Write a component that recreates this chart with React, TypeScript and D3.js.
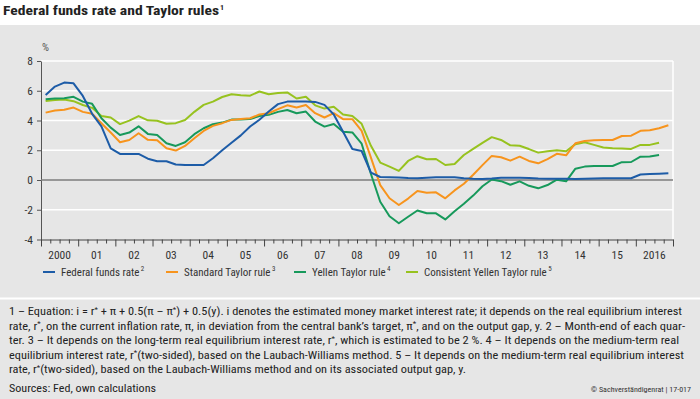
import { useEffect, useRef } from 'react';

import * as d3 from 'd3';

const WIDTH = 700;
const HEIGHT = 399;

const PLOT = ({
  left: 41, right: 673, top: 61, bottom: 239.5,
});

const FONT = '"Liberation Sans Narrow", "Roboto Condensed", "Liberation Sans", Arial, sans-serif';

const yTicks = [-4, -2, 0, 2, 4, 6, 8];
const yearLabels = ['2000', '01', '02', '03', '04', '05', '06', '07', '08', '09', '10', '11', '12', '13', '14', '15', '2016'];

// quarterly values, 2000Q1 onwards
const fedFunds = [
  5.72, 6.28, 6.55, 6.5, 5.65, 4.45, 3.6, 2.13, 1.75, 1.75, 1.75, 1.43,
  1.26, 1.26, 1.04, 1.01, 1.01, 1.01, 1.46, 2.0, 2.5, 3.0, 3.6, 4.05,
  4.6, 5.1, 5.27, 5.27, 5.27, 5.25, 5.05, 4.4, 3.25, 2.08, 1.95, 0.5,
  0.2, 0.18, 0.16, 0.13, 0.12, 0.15, 0.18, 0.18, 0.18, 0.12, 0.08, 0.07,
  0.1, 0.15, 0.15, 0.15, 0.14, 0.1, 0.09, 0.08, 0.08, 0.07, 0.09, 0.1,
  0.12, 0.12, 0.12, 0.12, 0.37, 0.4, 0.42, 0.45,
];
const standardTaylor = [
  4.53, 4.67, 4.72, 4.87, 4.58, 4.45, 3.82, 3.19, 2.54, 2.69, 3.14, 2.7,
  2.67, 2.13, 1.98, 2.29, 2.81, 3.3, 3.64, 3.82, 4.04, 4.1, 4.15, 4.4,
  4.49, 4.76, 5.02, 4.88, 5.04, 4.49, 4.2, 4.49, 4.09, 4.09, 3.3, 1.5,
  -0.34, -1.23, -1.68, -1.25, -0.74, -0.85, -0.83, -1.23, -0.7, -0.25, 0.35, 1.0,
  1.62, 1.53, 1.3, 1.57, 1.28, 1.12, 1.4, 1.76, 1.66, 2.47, 2.63, 2.68,
  2.69, 2.69, 2.96, 2.98, 3.31, 3.34, 3.48, 3.68,
];
const yellenTaylor = [
  5.43, 5.48, 5.5, 5.59, 5.27, 5.12, 4.15, 3.52, 3.03, 3.19, 3.61, 3.1,
  3.03, 2.47, 2.29, 2.54, 3.08, 3.48, 3.75, 3.86, 4.06, 4.07, 4.1, 4.3,
  4.38, 4.58, 4.71, 4.49, 4.6, 3.93, 3.59, 3.76, 3.25, 3.2, 2.44, 0.4,
  -1.46, -2.44, -2.91, -2.47, -2.05, -2.24, -2.24, -2.65, -2.1, -1.6, -1.05, -0.42,
  0.03, -0.08, -0.32, -0.09, -0.39, -0.56, -0.34, 0.02, -0.09, 0.76, 0.9, 0.94,
  0.94, 0.94, 1.2, 1.21, 1.57, 1.58, 1.68,
];
const consistentYellen = [
  5.31, 5.38, 5.41, 5.3, 5.04, 4.85, 4.3, 4.2, 3.76, 3.99, 4.3, 4.01,
  3.98, 3.78, 3.82, 4.03, 4.58, 5.05, 5.27, 5.58, 5.76, 5.7, 5.67, 5.95,
  5.77, 5.85, 5.89, 5.48, 5.6, 5.02, 4.8, 4.92, 4.4, 4.3, 3.78, 2.3,
  1.17, 0.9, 0.61, 1.28, 1.6, 1.4, 1.41, 1.01, 1.08, 1.68, 2.09, 2.5,
  2.88, 2.69, 2.33, 2.3, 2.08, 1.84, 1.93, 2.0, 1.93, 2.41, 2.54, 2.36,
  2.18, 2.13, 2.12, 2.09, 2.36, 2.36, 2.5,
];

const seriesNames = ['Federal funds rate', 'Standard Taylor rule', 'Yellen Taylor rule', 'Consistent Yellen Taylor rule'];
const seriesNotes = ['2', '3', '4', '5'];
const seriesColors = ['#1d5ca7', '#f7941d', '#17995b', '#97c21f'];
const seriesValues = [fedFunds, standardTaylor, yellenTaylor, consistentYellen];

const footnotes = [
  '1 – Equation: i = r* + π + 0.5(π – π*) + 0.5(y). i denotes the estimated money market interest rate; it depends on the real equilibrium interest',
  'rate, r*, on the current inflation rate, π, in deviation from the central bank\u2019s target, π*, and on the output gap, y.  2 – Month-end of each quar-',
  'ter.  3 – It depends on the long-term real equilibrium interest rate, r*, which is estimated to be 2 %.  4 – It depends on the medium-term real',
  'equilibrium interest rate, r*(two-sided), based on the Laubach-Williams method.  5 – It depends on the medium-term real equilibrium interest',
  'rate, r*(two-sided), based on the Laubach-Williams method and on its associated output gap, y.',
];

function App() {
  const svgRef = useRef(null);

  useEffect(() => {
    const svg = d3.select(svgRef.current);
    svg.selectAll('*').remove();
    svg.attr('font-family', FONT);

    const x = d3.scaleLinear().domain([2000, 2017]).range([PLOT.left, PLOT.right]);
    const y = d3.scaleLinear().domain([-4, 8]).range([PLOT.bottom, PLOT.top]);

    // background panel
    svg.append('rect')
      .attr('x', 0).attr('y', 25)
      .attr('width', WIDTH).attr('height', HEIGHT - 25)
      .attr('fill', '#e6e6e6');
    svg.append('rect')
      .attr('x', 0).attr('y', 297.5)
      .attr('width', WIDTH).attr('height', 2)
      .attr('fill', '#fff');

    // title
    svg.append('text')
      .attr('x', 3).attr('y', 15)
      .attr('font-size', 13).attr('font-weight', 'bold').attr('fill', '#222')
      .attr('textLength', 216).attr('lengthAdjust', 'spacingAndGlyphs')
      .text('Federal funds rate and Taylor rules');
    svg.append('text')
      .attr('x', 220).attr('y', 10)
      .attr('font-size', 8).attr('font-weight', 'bold').attr('fill', '#222')
      .text('1');

    // grid
    svg.append('g')
      .selectAll('line')
      .data(yTicks.filter((d) => d !== 0 && d !== -4))
      .join('line')
      .attr('x1', PLOT.left).attr('x2', PLOT.right)
      .attr('y1', (d) => y(d)).attr('y2', (d) => y(d))
      .attr('stroke', '#fff').attr('stroke-width', 1.5);
    svg.append('line')
      .attr('x1', PLOT.right).attr('x2', PLOT.right)
      .attr('y1', PLOT.top).attr('y2', PLOT.bottom)
      .attr('stroke', '#fff').attr('stroke-width', 1.5);

    svg.append('text')
      .attr('x', 42).attr('y', 51)
      .attr('font-size', 11).attr('fill', '#555')
      .text('%');

    // y axis
    const yAxis = svg.append('g')
      .attr('transform', `translate(${PLOT.left},0)`)
      .call(d3.axisLeft(y).tickValues(yTicks).tickSize(4).tickSizeOuter(0)
        .tickPadding(4).tickFormat((d) => `${d}`));
    yAxis.select('.domain').attr('stroke', '#555');
    yAxis.selectAll('.tick line').attr('stroke', '#555');
    yAxis.selectAll('text')
      .attr('font-family', FONT).attr('font-size', 11.5).attr('fill', '#333');

    // zero line
    svg.append('line')
      .attr('x1', PLOT.left).attr('x2', PLOT.right)
      .attr('y1', y(0)).attr('y2', y(0))
      .attr('stroke', '#7d7d7d').attr('stroke-width', 1.5);

    // x axis, quarterly ticks
    const qTicks = d3.range(0, 69).map((q) => 2000 + q / 4);
    const xAxis = svg.append('g')
      .attr('transform', `translate(0,${PLOT.bottom})`)
      .call(d3.axisBottom(x).tickValues(qTicks).tickSize(4).tickSizeOuter(0)
        .tickFormat(() => ''));
    xAxis.select('.domain').attr('stroke', '#444');
    xAxis.selectAll('.tick line')
      .attr('stroke', '#444')
      .attr('y2', (d) => (Number.isInteger(d) ? 7 : 4));

    svg.append('g')
      .selectAll('text')
      .data(yearLabels)
      .join('text')
      .attr('x', (d, i) => x(2000 + i + 0.5))
      .attr('y', 259)
      .attr('text-anchor', 'middle')
      .attr('font-size', 11.5).attr('fill', '#333')
      .text((d) => d);

    // series
    const line = d3.line()
      .x((d, i) => x(2000 + (i + 0.5) / 4))
      .y((d) => y(d));

    [3, 2, 1, 0].forEach((k) => {
      svg.append('path')
        .datum(seriesValues[k])
        .attr('fill', 'none')
        .attr('stroke', seriesColors[k])
        .attr('stroke-width', 2)
        .attr('stroke-linejoin', 'round')
        .attr('d', line);
    });

    // legend: note marker placed after the measured label width
    const legendX = [43, 166, 294, 406];
    const legend = svg.append('g').attr('transform', 'translate(0,272)');
    seriesNames.forEach((name, k) => {
      const g = legend.append('g').attr('transform', `translate(${legendX[k]},0)`);
      g.append('line')
        .attr('x1', 0).attr('x2', 12)
        .attr('stroke', seriesColors[k]).attr('stroke-width', 2);
      const label = g.append('text')
        .attr('x', 18).attr('y', 4)
        .attr('font-size', 11).attr('fill', '#333')
        .text(name);
      const w = (label.node() as SVGTextElement).getComputedTextLength();
      g.append('text')
        .attr('x', 19.5 + w).attr('y', -1.5)
        .attr('font-size', 7).attr('fill', '#333')
        .text(seriesNotes[k]);
    });

    // footnotes
    const noteW = [673, 676, 670, 675, 457];
    footnotes.forEach((str, j) => {
      const t = svg.append('text')
        .attr('x', 9).attr('y', 315 + j * 14.6)
        .attr('font-size', 11).attr('fill', '#222')
        .attr('textLength', noteW[j]).attr('lengthAdjust', 'spacingAndGlyphs');
      str.split('*').forEach((part, p) => {
        if (p > 0) {
          t.append('tspan').attr('dy', -3.5).attr('font-size', 7).text('*');
        }
        t.append('tspan').attr('dy', p > 0 ? 3.5 : 0).text(part);
      });
    });

    svg.append('text')
      .attr('x', 9).attr('y', 392)
      .attr('font-size', 11).attr('fill', '#222')
      .attr('textLength', 147).attr('lengthAdjust', 'spacingAndGlyphs')
      .text('Sources: Fed, own calculations');

    svg.append('text')
      .attr('x', 691).attr('y', 392)
      .attr('text-anchor', 'end')
      .attr('font-size', 8).attr('fill', '#333')
      .text('© Sachverständigenrat | 17-017');
  }, []);

  return (
    <svg
      ref={svgRef}
      width={WIDTH}
      height={HEIGHT}
      style={{ position: 'absolute', left: 0, top: 0, background: '#fff' }}
    />
  );
}

export default App;
